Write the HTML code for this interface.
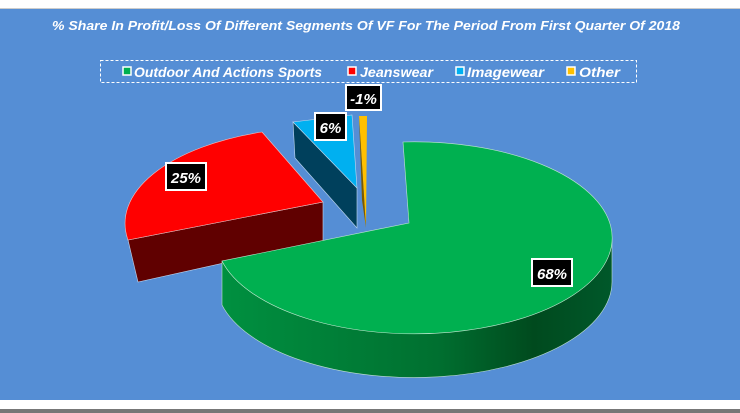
<!DOCTYPE html>
<html><head><style>
html,body{margin:0;padding:0;width:740px;height:413px;overflow:hidden;background:#fff}
svg{display:block}
text{font-family:"Liberation Sans",sans-serif;font-style:italic;font-weight:bold}
</style></head><body>
<svg width="740" height="413" viewBox="0 0 740 413">
<defs>
<linearGradient id="gs" x1="0" x2="1" y1="0" y2="0">
<stop offset="0" stop-color="#009040"/><stop offset="0.55" stop-color="#007030"/><stop offset="0.8" stop-color="#004a1e"/><stop offset="1" stop-color="#00582a"/>
</linearGradient>
</defs>
<rect x="0" y="0" width="740" height="8" fill="#fff"/>
<rect x="0" y="8" width="740" height="1.5" fill="#ccc"/>
<rect x="0" y="9" width="740" height="391" fill="#558ed5"/>
<rect x="0" y="409" width="740" height="4" fill="#777"/>
<text x="52" y="30" fill="#fff" font-size="13" textLength="628" lengthAdjust="spacingAndGlyphs">% Share In Profit/Loss  Of Different Segments Of VF For The Period From First Quarter Of 2018</text>
<rect x="100.5" y="60.5" width="536" height="22" fill="none" stroke="#fff" stroke-dasharray="3,2"/>
<rect x="123" y="67" width="8" height="8" fill="#00b050" stroke="#fff" stroke-width="1.5"/>
<text x="134" y="77" fill="#fff" font-size="14" textLength="188" lengthAdjust="spacingAndGlyphs">Outdoor And Actions Sports</text>
<rect x="348" y="67" width="8" height="8" fill="#ff0000" stroke="#fff" stroke-width="1.5"/>
<text x="360" y="77" fill="#fff" font-size="14" textLength="73" lengthAdjust="spacingAndGlyphs">Jeanswear</text>
<rect x="456" y="67" width="8" height="8" fill="#00b0f0" stroke="#fff" stroke-width="1.5"/>
<text x="467" y="77" fill="#fff" font-size="14" textLength="77" lengthAdjust="spacingAndGlyphs">Imagewear</text>
<rect x="567" y="67" width="8" height="8" fill="#ffc000" stroke="#fff" stroke-width="1.5"/>
<text x="579" y="77" fill="#fff" font-size="14" textLength="41" lengthAdjust="spacingAndGlyphs">Other</text>
<!-- red slice -->
<polygon points="128,240 323,202 323,241 138,282" fill="#600000" stroke="#c0d8f0" stroke-width="0.6"/>
<path d="M128,240 L138,282 L134,265 Z" fill="#d00000"/>
<path d="M323,202 L262,132 A197,96 0 0,0 128,240 Z" fill="#ff0000" stroke="#f0c0c0" stroke-width="0.6"/>
<!-- blue slice -->
<polygon points="293,122 357,188 357,228 295,158" fill="#00405c" stroke="#c0d8f0" stroke-width="0.6"/>
<polygon points="293,122 352,115 357,188" fill="#00b0f0" stroke="#c0d8f0" stroke-width="0.6"/>
<!-- orange -->
<polygon points="359,116 367,116 366,228" fill="#ffc000"/>
<polygon points="359,116 366,228 362,200" fill="#7a5a00"/>
<!-- green -->
<path d="M612,238 A198,96 0 0,1 222,261 L222,305 A198,96 0 0,0 612,282 Z" fill="url(#gs)" stroke="#c0e0d0" stroke-width="0.6"/>
<polygon points="403,142 409,223 409,230 405,150" fill="#003a18"/>
<path d="M409,223 L403,142 A198,96 0 1,1 222,261 Z" fill="#00b050" stroke="#c0e8d0" stroke-width="0.6"/>
<!-- labels -->
<g font-size="15" fill="#fff" text-anchor="middle">
<rect x="166" y="163" width="40" height="27" fill="#000" stroke="#fff" stroke-width="2"/><text x="186" y="183">25%</text>
<rect x="315" y="113" width="31" height="27" fill="#000" stroke="#fff" stroke-width="2"/><text x="330.5" y="133">6%</text>
<rect x="346" y="85" width="35" height="25" fill="#000" stroke="#fff" stroke-width="2"/><text x="363.5" y="104">-1%</text>
<rect x="532" y="259" width="40" height="27" fill="#000" stroke="#fff" stroke-width="2"/><text x="552" y="279">68%</text>
</g>
</svg>
</body></html>
